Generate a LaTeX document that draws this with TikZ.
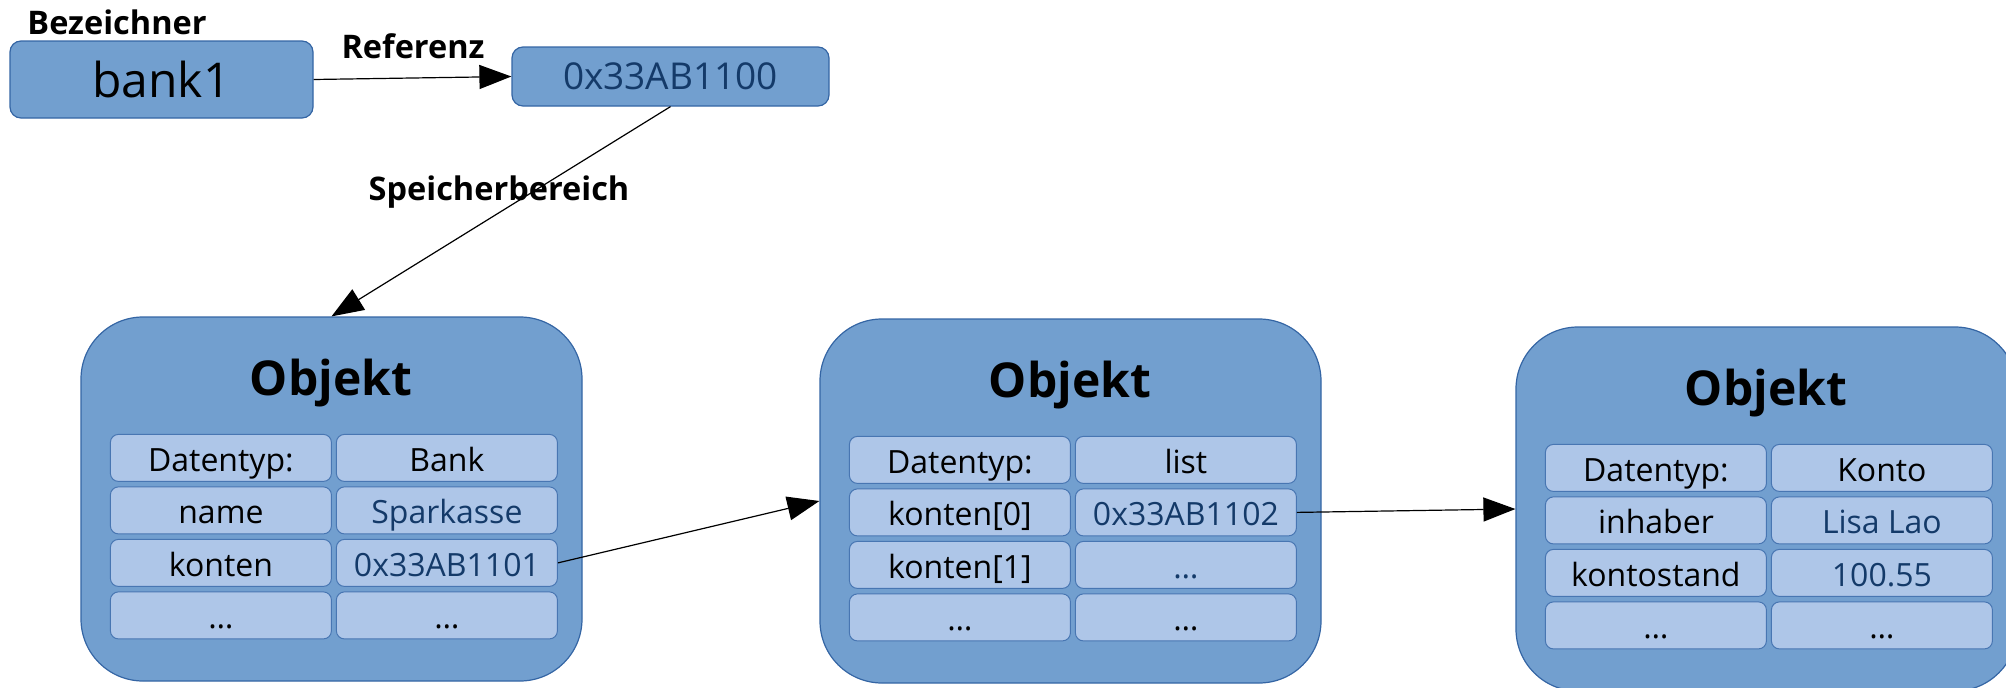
\documentclass[tikz,border=0pt]{standalone}
\usepackage{fontspec}
\setmainfont{Open Sans}
\usetikzlibrary{arrows.meta}
\definecolor{objfill}{RGB}{114,159,207}
\definecolor{cellfill}{RGB}{174,198,232}
\definecolor{edgeblue}{RGB}{52,101,164}
\definecolor{celledge}{RGB}{72,118,178}
\definecolor{valblue}{RGB}{20,58,105}
\tikzset{
  objbox/.style={draw=edgeblue, fill=objfill, line width=1.2pt, rounded corners=62pt,
    minimum width=501pt, minimum height=364pt, inner sep=0pt},
  cellbox/.style={draw=celledge, fill=cellfill, line width=1pt, rounded corners=8pt,
    minimum width=221pt, minimum height=47pt, inner sep=0pt, text height=30pt, text depth=3pt,
    font=\fontsize{32}{38}\selectfont},
  smallbox/.style={draw=edgeblue, fill=objfill, line width=1.2pt, rounded corners=11pt, inner sep=0pt},
  titletext/.style={font=\fontsize{48}{56}\selectfont\bfseries, inner sep=0pt},
  labeltext/.style={font=\fontsize{32.5}{38}\selectfont\bfseries, inner sep=0pt},
  arrowline/.style={draw=black, line width=1.2pt, -{Triangle[length=32pt,width=24pt]}},
}
\newcommand\objrow[5]{%
  \node[cellbox] (#1l#2) at ([shift={(140.5,-#3)}]#1.north west) {#4};
  \node[cellbox] (#1r#2) at ([shift={(366.5,-#3)}]#1.north west) {#5};}
\newcommand\objtitle[1]{%
  \node[titletext, anchor=base] (#1t) at ([shift={(250.5,-79)}]#1.north west) {Objekt};}
\begin{document}
\begin{tikzpicture}[x=1pt,y=1pt]
\useasboundingbox (0,0) rectangle (2006,-688);
\clip (0,0) rectangle (2006,-688);
% top part
\node[labeltext] (bez) at (117,-22) {Bezeichner};
\node[smallbox, minimum width=303pt, minimum height=77pt, font=\fontsize{48}{56}\selectfont] (bank) at (161.5,-79.5) {bank1};
\node[labeltext] (ref) at (413,-46) {Referenz};
\node[smallbox, minimum width=317pt, minimum height=59pt, font=\fontsize{37}{44}\selectfont, text=valblue] (addr) at (670.5,-76.5) {0x33AB1100};
\node[labeltext] (spb) at (499,-192) {Speicherbereich};
% objects
\node[objbox] (oa) at (331.5,-499) {};
\node[objbox] (ob) at (1070.5,-501) {};
\node[objbox] (oc) at (1766.5,-509) {};
\objtitle{oa}\objtitle{ob}\objtitle{oc}
\objrow{oa}{1}{141.5}{Datentyp:}{Bank}
\objrow{oa}{2}{194}{name}{\color{valblue}Sparkasse}
\objrow{oa}{3}{246.5}{konten}{\color{valblue}0x33AB1101}
\objrow{oa}{4}{299}{…}{…}
\objrow{ob}{1}{141.5}{Datentyp:}{list}
\objrow{ob}{2}{194}{konten[0]}{\color{valblue}0x33AB1102}
\objrow{ob}{3}{246.5}{konten[1]}{\color{valblue}…}
\objrow{ob}{4}{299}{…}{…}
\objrow{oc}{1}{141.5}{Datentyp:}{Konto}
\objrow{oc}{2}{194}{inhaber}{\color{valblue}Lisa Lao}
\objrow{oc}{3}{246.5}{kontostand}{\color{valblue}100.55}
\objrow{oc}{4}{299}{…}{…}
% connectors
\draw[arrowline] (bank.east) -- (addr.west);
\draw[arrowline] (addr.south) -- (oa.north);
\draw[arrowline] (oar3.east) -- (ob.west);
\draw[arrowline] (obr2.east) -- (oc.west);
\end{tikzpicture}
\end{document}
